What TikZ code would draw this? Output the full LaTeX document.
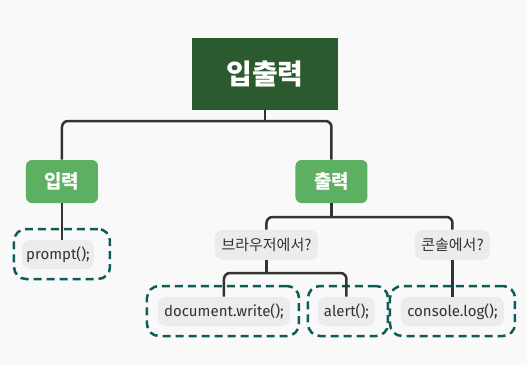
\documentclass[tikz,border=0pt]{standalone}
\usepackage{fontspec}
\setmainfont{Fira Sans}
\newfontfamily\kr{Noto Sans CJK KR}
\usetikzlibrary{positioning}
\definecolor{bgpaper}{RGB}{249,249,249}
\definecolor{rootgreen}{RGB}{42,90,46}
\definecolor{leafgreen}{RGB}{93,175,98}
\definecolor{chipgray}{RGB}{236,236,236}
\definecolor{inkgray}{RGB}{51,51,51}
\definecolor{teal}{RGB}{14,92,88}

\begin{document}
\begin{tikzpicture}[x=0.5pt,y=-0.5pt]
    \tikzset{
    rootbox/.style={
        fill=rootgreen,
        text=white,
        minimum width=73pt,
        minimum height=36pt,
        font=\kr\bfseries\fontsize{14}{16}\selectfont
    },
    branch/.style={
        fill=leafgreen,
        text=white,
        rounded corners=3pt,
        minimum width=36pt,
        minimum height=21.5pt,
        font=\kr\bfseries\fontsize{9.5}{11}\selectfont
    },
    question/.style={
        fill=chipgray,
        text=inkgray,
        rounded corners=4pt,
        minimum height=15pt,
        inner xsep=2pt,
        font=\kr\fontsize{7.5}{9}\selectfont
    },
    code/.style={
        fill=chipgray,
        text=inkgray,
        rounded corners=4pt,
        minimum height=14.5pt,
        inner xsep=2pt,
        font=\fontsize{7.5}{9}\selectfont
    },
    group/.style={
        draw=teal,
        line width=1.25pt,
        dash pattern=on 4pt off 2.5pt,
        rounded corners=6pt,
        minimum height=25pt
    },
    link/.style={
        draw=inkgray,
        line width=1.25pt,
        rounded corners=3pt
    }
}
    % background and size
    \fill[bgpaper] (0,0) rectangle (527,365);

    \node[rootbox] (Root) at (265,74) {입출력};

    \node[branch] (Input) at (62,181.5) {입력};
    \node[branch] (Output) at (331.5,181.5) {출력};

    \node[question, minimum width=51.5pt] (Browser) at (266.5,245) {브라우저에서?};
    \node[question, minimum width=37.5pt] (Console) at (452.5,245) {콘솔에서?};

    % dashed groups
    \node[group, minimum width=48pt] (PromptGrp) at (62,254) {};
    \node[group, minimum width=76pt] (DocGrp) at (223,311) {};
    \node[group, minimum width=40pt] (AlertGrp) at (348,311) {};
    \node[group, minimum width=62.5pt] (LogGrp) at (452.5,311) {};

    \node[code, minimum width=33pt] (Prompt) at (58,254.5) {prompt();};
    \node[code, minimum width=66pt] (DocWrite) at (224,311.5) {document.write();};
    \node[code, minimum width=28.5pt] (Alert) at (346.5,311.5) {alert();};
    \node[code, minimum width=51.5pt] (ConsoleLog) at (452.5,311.5) {console.log();};

    \draw[link] (Root.south) -- (Root.south |- 0,121);
    \draw[link] (Input.north) -- (Input.north |- 0,121) -- (Output.north |- 0,121) -- (Output.north);
    \draw[link] (Input.south) -- (Input.south |- Prompt.north);
    \draw[link] (Output.south) -- (Output.south |- 0,217);
    \draw[link] (Browser.north) -- (Browser.north |- 0,217) -- (Console.north |- 0,217) -- (Console.north);
    \draw[link] (Browser.south) -- (Browser.south |- 0,273);
    \draw[link] (DocWrite.north) -- (DocWrite.north |- 0,273) -- (Alert.north |- 0,273) -- (Alert.north);
    \draw[link] (Console.south) -- (ConsoleLog.north);
\end{tikzpicture}
\end{document}
